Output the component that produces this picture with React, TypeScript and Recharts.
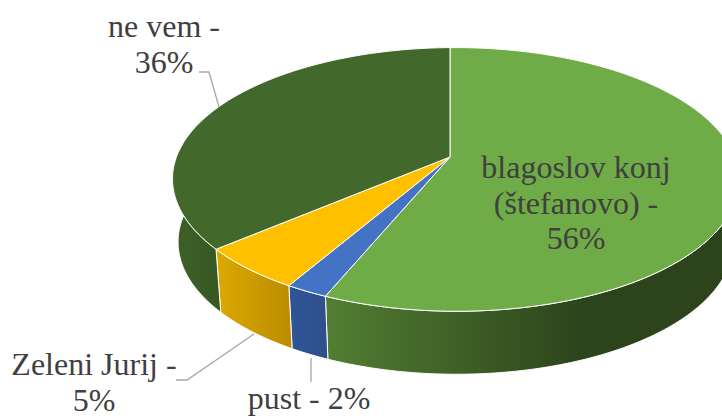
import { PieChart, Pie } from "recharts";

const names = ["blagoslov konj (štefanovo)", "pust", "Zeleni Jurij", "ne vem"];
const values = [56.2, 2.1, 5.4, 36.3];
const topColors = ["#6fab47", "#4472c4", "#ffc000", "#43682b"];
const wallIds = ["wallGreen", "wallBlue", "wallYellow", "wallDark"];
const labelLines = [
  ["blagoslov konj", "(štefanovo) -", "56%"],
  ["pust - 2%"],
  ["Zeleni Jurij -", "5%"],
  ["ne vem -", "36%"],
];

const topData = names.map((name, i) => ({ name, value: values[i], fill: topColors[i] }));
const wallData = names.map((name, i) => ({ name, value: values[i], fill: `url(#${wallIds[i]})` }));

// label placement: centre x, first baseline, leader line
const labelLayout = [
  { x: 576, y: 178, line: "" },
  { x: 309, y: 409, line: "311,358 311,382" },
  { x: 94, y: 375, line: "176,380 187,380 254,334" },
  { x: 164, y: 37, line: "199,72 209,72 219,107" },
];

const SQUASH_X = 279 / 128;
const TILT = 0.17;
const TILT_X = 0.02;
const DEPTH = 63;
const BOTTOM_SHRINK = 0.98;

// perspective projection of a flat circle, angle in recharts degrees
function rimPoint(cx: number, cy: number, r: number, angle: number) {
  const t = (angle * Math.PI) / 180;
  const u = Math.cos(t);
  const v = -Math.sin(t);
  const d = 1 - TILT * v - TILT_X * u;
  return { x: cx + (r * SQUASH_X * u) / d, y: cy + (r * v) / d };
}

function rimPath(cx: number, cy: number, r: number, start: number, end: number) {
  const pts = [];
  const steps = Math.max(2, Math.ceil(Math.abs(end - start)));
  for (let i = 0; i <= steps; i++) {
    pts.push(rimPoint(cx, cy, r, start + ((end - start) * i) / steps));
  }
  return pts;
}

function TopSlice(props: any) {
  const { cx, cy, outerRadius, startAngle, endAngle, fill } = props;
  const pts = rimPath(cx, cy, outerRadius, startAngle, endAngle);
  const d = `M${cx},${cy} ` + pts.map((p) => `L${p.x},${p.y}`).join(" ") + " Z";
  return <path d={d} fill={fill} stroke="#ffffff" strokeWidth={1} strokeLinejoin="round" />;
}

function WallSlice(props: any) {
  const { cx, cy, outerRadius, startAngle, endAngle, fill } = props;
  const pts = rimPath(cx, cy, outerRadius, startAngle, endAngle);
  const low = [...pts]
    .reverse()
    .map((p) => ({ x: cx + (p.x - cx) * BOTTOM_SHRINK, y: p.y + DEPTH }));
  const d = [...pts, ...low].map((p, i) => `${i ? "L" : "M"}${p.x},${p.y}`).join(" ") + " Z";
  return <path d={d} fill={fill} stroke="#ffffff" strokeWidth={1} strokeLinejoin="round" />;
}

function SliceLabel(props: any) {
  const { index } = props;
  const pos = labelLayout[index];
  return (
    <g>
      {pos.line && <polyline points={pos.line} fill="none" stroke="#a6a6a6" strokeWidth={1.3} />}
      <text
        x={pos.x}
        y={pos.y}
        textAnchor="middle"
        style={{ fontFamily: "'Liberation Serif', 'Times New Roman', serif", fontSize: 32, fill: "#404040" }}
      >
        {labelLines[index].map((line, i) => (
          <tspan key={i} x={pos.x} y={pos.y + i * 35.5}>
            {line}
          </tspan>
        ))}
      </text>
    </g>
  );
}

export default function App() {
  return (
    <div style={{ position: "absolute", left: 0, top: 0, width: 722, height: 416 }}>
      <PieChart width={722} height={416} margin={{ top: 0, right: 0, bottom: 0, left: 0 }}>
        <defs>
          <linearGradient id="wallGreen" gradientUnits="userSpaceOnUse" x1="325" y1="0" x2="585" y2="0">
            <stop offset="0%" stopColor="#527e33" />
            <stop offset="100%" stopColor="#2c431b" />
          </linearGradient>
          <linearGradient id="wallBlue" gradientUnits="userSpaceOnUse" x1="292" y1="0" x2="326" y2="0">
            <stop offset="0%" stopColor="#2f5597" />
            <stop offset="100%" stopColor="#2f4f8c" />
          </linearGradient>
          <linearGradient id="wallYellow" gradientUnits="userSpaceOnUse" x1="215" y1="0" x2="295" y2="0">
            <stop offset="0%" stopColor="#dcaa00" />
            <stop offset="100%" stopColor="#b98b00" />
          </linearGradient>
          <linearGradient id="wallDark" gradientUnits="userSpaceOnUse" x1="172" y1="0" x2="220" y2="0">
            <stop offset="0%" stopColor="#3e6028" />
            <stop offset="100%" stopColor="#385823" />
          </linearGradient>
        </defs>
        <Pie
          data={wallData}
          dataKey="value"
          nameKey="name"
          cx={450}
          cy={157}
          outerRadius={128}
          startAngle={90}
          endAngle={-270}
          shape={WallSlice}
          label={false}
          labelLine={false}
          isAnimationActive={false}
        />
        <Pie
          data={topData}
          dataKey="value"
          nameKey="name"
          cx={450}
          cy={157}
          outerRadius={128}
          startAngle={90}
          endAngle={-270}
          shape={TopSlice}
          label={SliceLabel}
          labelLine={false}
          isAnimationActive={false}
        />
      </PieChart>
    </div>
  );
}
